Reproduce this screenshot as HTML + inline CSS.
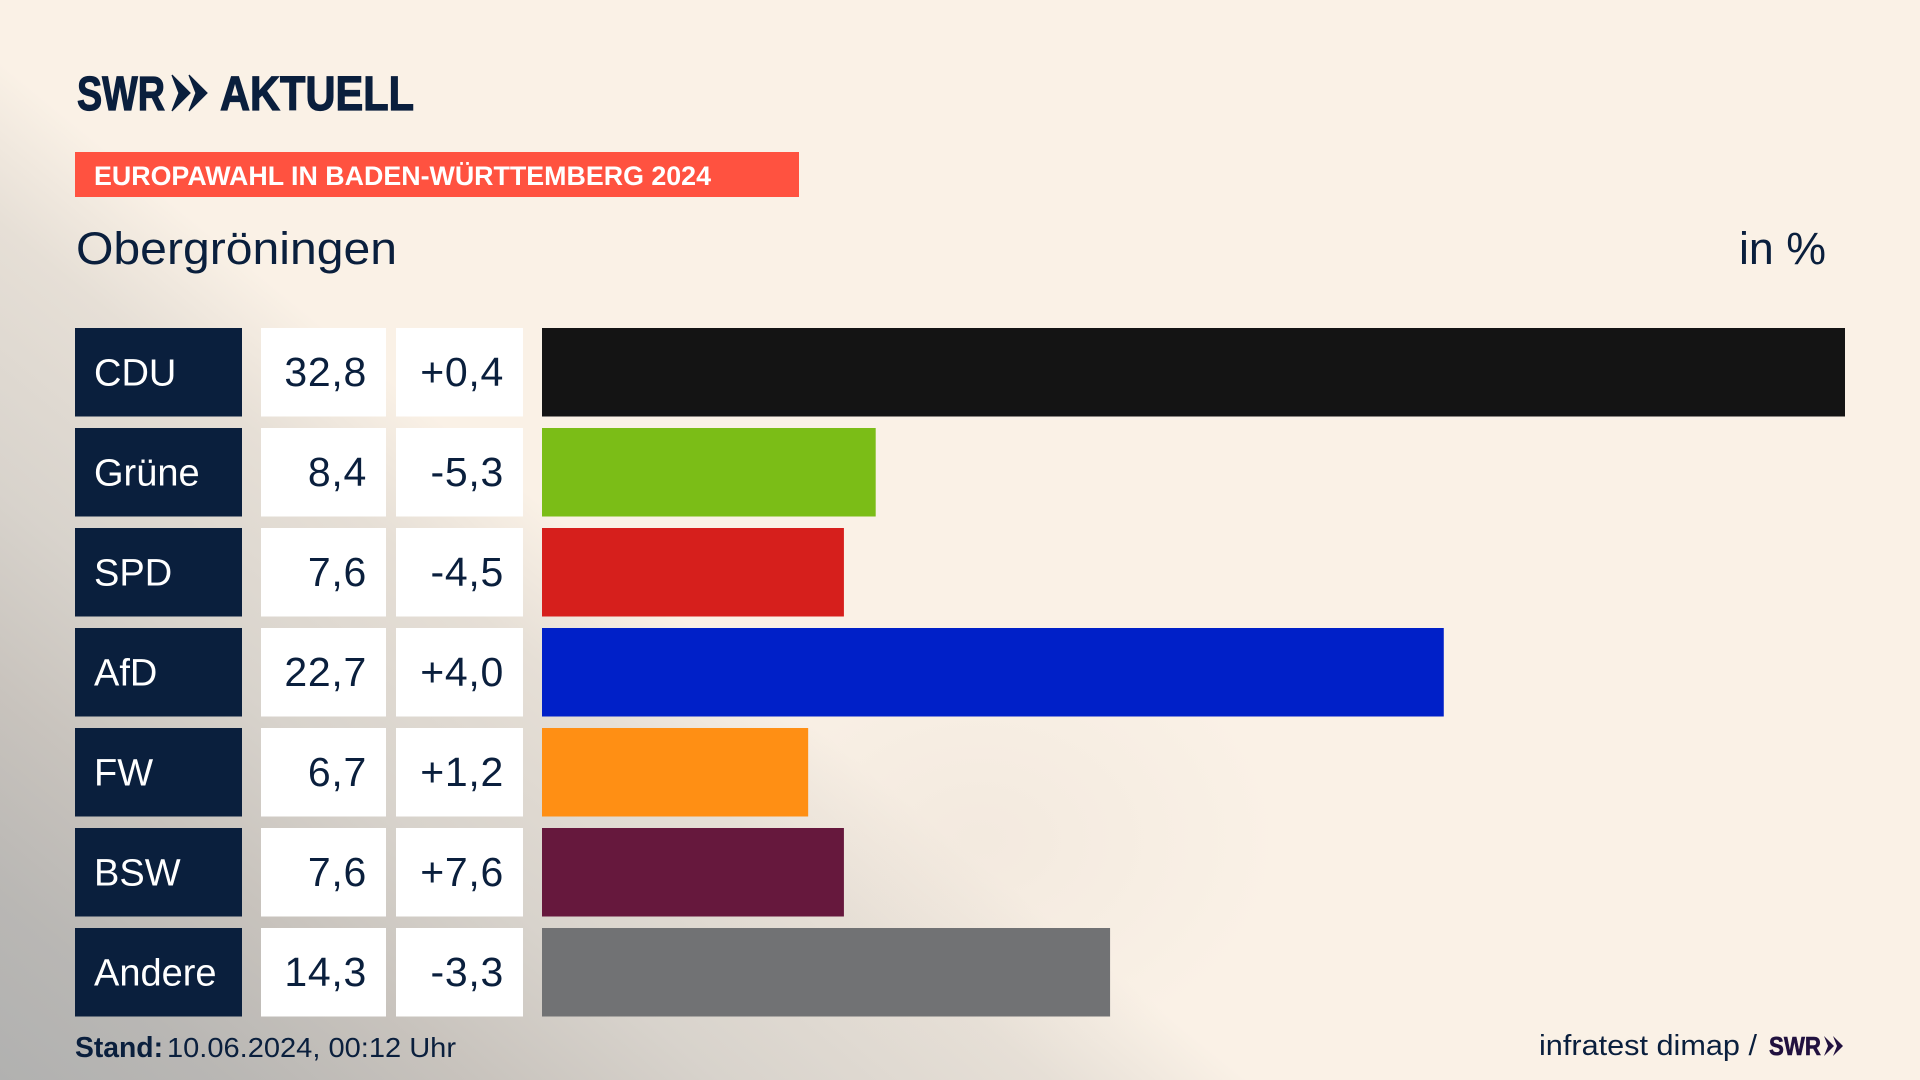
<!DOCTYPE html>
<html lang="de">
<head>
<meta charset="utf-8">
<title>Europawahl in Baden-Württemberg 2024 – Obergröningen</title>
<style>
html,body{margin:0;padding:0;width:1920px;height:1080px;overflow:hidden}
body{background:
 radial-gradient(ellipse 300px 220px at 980px 840px,rgba(232,222,212,.4) 0%,rgba(250,241,230,0) 100%),
 linear-gradient(39.2deg,#b1b1b0 0%,#b9b7b4 7%,#c8c3bd 14.6%,#d8d3cc 22.3%,#e6dfd6 32.3%,#faf1e6 38.5%,#faf1e6 100%);
 background-color:#faf1e6;font-family:"Liberation Sans",sans-serif}
svg{position:absolute;left:0;top:0;display:block}
</style>
</head>
<body>
<svg id="chart" xmlns="http://www.w3.org/2000/svg" width="1920" height="1080" viewBox="0 0 1920 1080" font-family="'Liberation Sans',sans-serif">
  <g fill="#0a1f3d" stroke="#0a1f3d" stroke-width="1.2">
    <text x="77" y="110" font-size="48" font-weight="700" textLength="88" lengthAdjust="spacingAndGlyphs">SWR</text>
    <polygon points="172,75 190,93 172,111 179,93"/>
    <polygon points="189,75 207,93 189,111 196,93"/>
    <text x="220" y="110" font-size="48" font-weight="700" textLength="194" lengthAdjust="spacingAndGlyphs">AKTUELL</text>
  </g>
  <rect x="75" y="152" width="724" height="45" fill="#ff5240"/>
  <text x="94" y="185" font-size="27" font-weight="700" fill="#fff" textLength="617" lengthAdjust="spacingAndGlyphs">EUROPAWAHL IN BADEN-WÜRTTEMBERG 2024</text>
  <text x="76" y="264" font-size="45" fill="#0a1f3d" textLength="321" lengthAdjust="spacingAndGlyphs">Obergröningen</text>
  <text x="1739" y="264" font-size="45" fill="#0a1f3d" textLength="87" lengthAdjust="spacingAndGlyphs">in %</text>
  <g id="rows"></g>
  <g fill="#0a1f3d">
    <text x="75" y="1057" font-size="29" font-weight="700" textLength="88" lengthAdjust="spacingAndGlyphs">Stand:</text>
    <text x="167" y="1057" font-size="28" textLength="289" lengthAdjust="spacingAndGlyphs">10.06.2024, 00:12 Uhr</text>
  </g>
  <g>
    <text x="1539" y="1055" font-size="29" fill="#0a1f3d" textLength="218" lengthAdjust="spacingAndGlyphs">infratest dimap /</text>
    <text x="1769" y="1055" font-size="26" font-weight="700" fill="#21113f" stroke="#21113f" stroke-width=".6" textLength="52" lengthAdjust="spacingAndGlyphs">SWR</text>
    <polygon fill="#21113f" points="1824,1036 1834,1046 1824,1056 1828,1046"/>
    <polygon fill="#21113f" points="1833,1036 1843,1046 1833,1056 1837,1046"/>
  </g>
</svg>
<script>
const parties = ["CDU", "Grüne", "SPD", "AfD", "FW", "BSW", "Andere"];
const shares = [32.8, 8.4, 7.6, 22.7, 6.7, 7.6, 14.3];
const changes = [0.4, -5.3, -4.5, 4.0, 1.2, 7.6, -3.3];
const partyColors = {CDU:"#141414","Grüne":"#7bbd17",SPD:"#d61f1c",AfD:"#0020c8",FW:"#ff8f14",BSW:"#66183d",Andere:"#717274"};

const SVGNS = "http://www.w3.org/2000/svg";
const barLeft = 542, barMaxWidth = 1303, axisMax = 32.8;
const rowTop = 328, rowPitch = 100, rowHeight = 88.5;
const xScale = v => v / axisMax * barMaxWidth;
const yScale = i => rowTop + i * rowPitch;
const fmtShare = v => v.toFixed(1).replace(".", ",");
const fmtChange = v => (v > 0 ? "+" : "") + v.toFixed(1).replace(".", ",");
const slug = s => s.toLowerCase().replace("ü", "ue");

function make(tag, attrs, parent) {
  const el = document.createElementNS(SVGNS, tag);
  for (const k in attrs) el.setAttribute(k, attrs[k]);
  parent.appendChild(el);
  return el;
}

const root = document.getElementById("rows");
parties.forEach((p, i) => {
  const y = yScale(i);
  const key = slug(p);

  const g = make("g", {}, root);
  
  

  const nameBox = make("rect", {x: 75, y: y, width: 167, height: rowHeight, fill: "#0a1f3d"}, g);
  
  

  const nameText = make("text", {x: 94, y: y + 57.5, "font-size": 38, fill: "#fff"}, g);
  nameText.textContent = p;
  
  

  const valBox = make("rect", {x: 261, y: y, width: 125, height: rowHeight, fill: "#fff"}, g);
  
  

  const valText = make("text", {x: 367, y: y + 58, "font-size": 41, "letter-spacing": ".7", fill: "#0a1f3d", "text-anchor": "end"}, g);
  valText.textContent = fmtShare(shares[i]);
  
  

  const chgBox = make("rect", {x: 396, y: y, width: 127, height: rowHeight, fill: "#fff"}, g);
  
  

  const chgText = make("text", {x: 504, y: y + 58, "font-size": 41, "letter-spacing": ".7", fill: "#0a1f3d", "text-anchor": "end"}, g);
  chgText.textContent = fmtChange(changes[i]);
  
  

  const bar = make("rect", {x: barLeft, y: y, width: xScale(shares[i]), height: rowHeight, fill: partyColors[p]}, g);
  
  
});
</script>
</body>
</html>
